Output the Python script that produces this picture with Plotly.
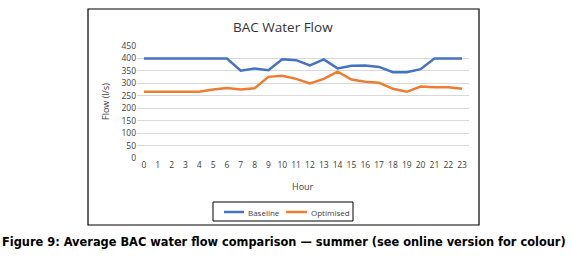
import plotly.graph_objects as go

hours = list(range(24))
hour_labels = [str(h) for h in hours]
baseline = [400, 400, 400, 400, 400, 400, 400, 351, 360, 353, 397, 393, 372, 396, 360, 371, 372, 366, 345, 345, 357, 400, 400, 400]
optimised = [266, 266, 266, 266, 266, 275, 281, 275, 280, 326, 330, 318, 300, 318, 347, 315, 306, 302, 278, 266, 287, 284, 284, 278]
y_ticks = [0, 50, 100, 150, 200, 250, 300, 350, 400, 450]
series_names = ["Baseline", "Optimised"]
series_colors = ["#4472C4", "#ED7D31"]

FONT = "Open Sans"
L, R, T, B = 137, 469, 46, 158
W, H = 572, 259
pw, ph = R - L, B - T

def px(x):
    return (x - L) / pw

def py(y):
    return (B - y) / ph

fig = go.Figure()
for name, vals, col in zip(series_names, [baseline, optimised], series_colors):
    fig.add_trace(go.Scatter(x=hours, y=vals, mode="lines", name=name,
                             line=dict(color=col, width=2.5)))

fig.update_layout(
    width=W, height=H,
    margin=dict(l=L, r=W - R, t=T, b=H - B, autoexpand=False),
    paper_bgcolor="white", plot_bgcolor="white",
    font=dict(family=FONT, color="#404040"),
    showlegend=False,
    xaxis=dict(range=[-0.5, 23.5], tickmode="array", tickvals=hours, ticktext=hour_labels,
               showgrid=False, zeroline=False, showline=False, ticks="", automargin=False,
               tickfont=dict(size=8.5, color="#404040")),
    yaxis=dict(range=[0, 450], tickmode="array", tickvals=y_ticks, automargin=False,
               showgrid=True, gridcolor="#d9d9d9", gridwidth=1, zeroline=False,
               showline=False, ticks="", tickfont=dict(size=8.5, color="#404040")),
)

# outer chart frame
fig.add_shape(type="rect", xref="paper", yref="paper",
              x0=px(88), x1=px(479), y0=py(225), y1=py(9),
              line=dict(color="black", width=1.2), fillcolor="rgba(0,0,0,0)", layer="below")

# legend frame and entries
fig.add_shape(type="rect", xref="paper", yref="paper",
              x0=px(213), x1=px(353), y0=py(221), y1=py(202),
              line=dict(color="black", width=1), fillcolor="rgba(0,0,0,0)")
leg_line_x = [(224, 244), (286, 307)]
for (x0, x1), name, col in zip(leg_line_x, series_names, series_colors):
    fig.add_shape(type="line", xref="paper", yref="paper", x0=px(x0), x1=px(x1),
                  y0=py(212), y1=py(212), line=dict(color=col, width=2.5))
    fig.add_annotation(text=name, xref="paper", yref="paper", x=px(x1 + 2), y=py(212),
                       xanchor="left", yanchor="middle", showarrow=False,
                       font=dict(size=8, color="#404040", family=FONT))

def label(text, x, y, size, color, family=FONT, angle=0):
    fig.add_annotation(text=text, xref="paper", yref="paper", x=px(x), y=py(y),
                       xanchor="center", yanchor="middle", textangle=angle,
                       showarrow=False, font=dict(size=size, color=color, family=family))

label("BAC Water Flow", 283, 27, 13.5, "#333333")
label("Hour", 303, 186, 9, "#404040")
label("Flow (l/s)", 105, 102, 9, "#404040", angle=-90)
label("<b>Figure 9: Average BAC water flow comparison \u2014 summer (see online version for colour)</b>",
      284, 242, 11.4, "black", family="DejaVu Sans")

fig.write_html("out.html", config={"displayModeBar": False},
               post_script="document.body.style.margin='0';")
